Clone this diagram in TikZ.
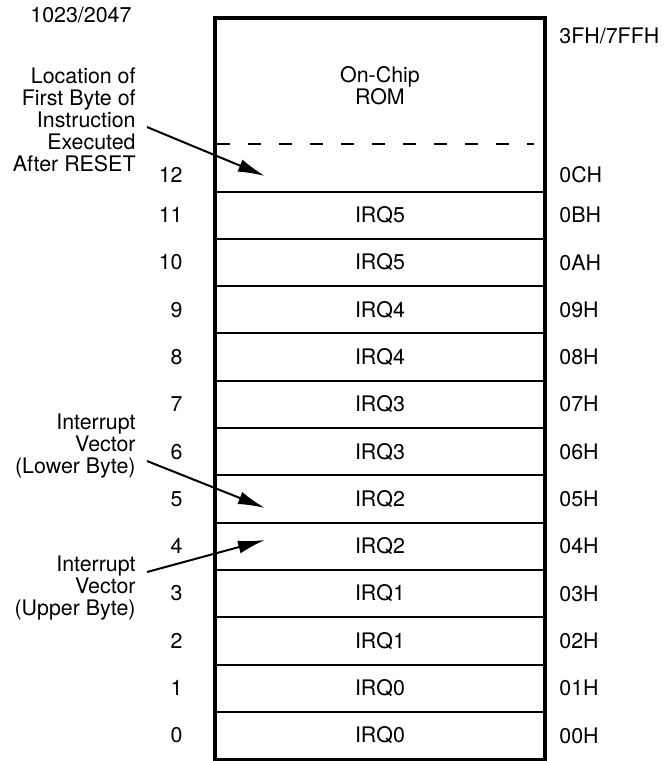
\documentclass[tikz,border=0pt]{standalone}
\usepackage{fontspec}
\setmainfont{TeX Gyre Heros}
\usetikzlibrary{arrows.meta}
\begin{document}
\begin{tikzpicture}[x=0.5pt, y=-0.5pt,
  font=\fontsize{10.7}{11}\selectfont,
  cell/.style={draw, line width=1pt, minimum width=165pt, minimum height=23.65pt, inner sep=0pt},
  num/.style={anchor=east, inner sep=0pt},
  addr/.style={anchor=west, inner sep=0pt},
  note/.style={anchor=east, align=right, inner sep=0pt},
  ptr/.style={line width=1pt, -{Latex[length=13.5pt, width=6.5pt]}}]
  \useasboundingbox (0,0) rectangle (665,761);
  % vector table, one byte per row
  \foreach \i/\irq/\hex in {0/IRQ0/00H, 1/IRQ0/01H, 2/IRQ1/02H, 3/IRQ1/03H,
      4/IRQ2/04H, 5/IRQ2/05H, 6/IRQ3/06H, 7/IRQ3/07H,
      8/IRQ4/08H, 9/IRQ4/09H, 10/IRQ5/0AH, 11/IRQ5/0BH} {
    \node[cell] (row\i) at (380, 735.45-47.3*\i) {\irq};
    \node[num] (n\i) at (183, 735.45-47.3*\i) {\i};
    \node[addr] (a\i) at (559, 735.45-47.3*\i) {\hex};
  }
  % on-chip rom
  \node[align=center] (rom) at (380,86) {On-Chip\\ROM};
  \draw[line width=1pt, dash pattern=on 6.5pt off 9pt] (217,144) -- (534,144);
  \draw[line width=1.75pt] (215,18) rectangle (545,759.5);
  \node[num] (n12) at (183,175) {12};
  \node[addr] (a12) at (559,175) {0CH};
  \node[anchor=west, inner sep=0pt] (topnum) at (30,15) {1023/2047};
  \node[addr] (topaddr) at (559,36) {3FH/7FFH};
  % notes
  \node[note] (reset) at (136,119.5) {Location of\\First Byte of\\Instruction\\Executed\\After RESET};
  \node[note] (lower) at (136,446) {Interrupt\\Vector\\(Lower Byte)};
  \node[note] (upper) at (136,588) {Interrupt\\Vector\\(Upper Byte)};
  \coordinate (resetpt) at (265,176);
  \coordinate (lowerpt) at (265,508);
  \coordinate (upperpt) at (265,540);
  \draw[ptr] ([shift={(11,7.5)}]reset.east) -- (resetpt);
  \draw[ptr] ([shift={(11,15)}]lower.east) -- (lowerpt);
  \draw[ptr] ([shift={(11,-16)}]upper.east) -- (upperpt);
\end{tikzpicture}
\end{document}
